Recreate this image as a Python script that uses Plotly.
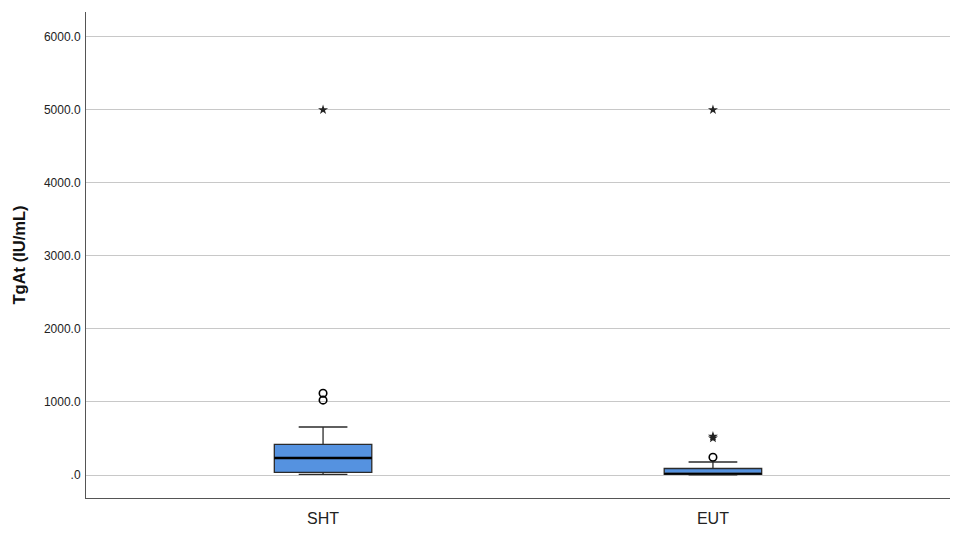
import plotly.graph_objects as go

groups = ["SHT", "EUT"]
q1 = [37, 10]
median = [233, 18]
q3 = [420, 89]
lower_whisker = [8, 2]
upper_whisker = [657, 178]
circle_outliers = [[1025, 1120], [242]]
star_outliers = [[5000], [505, 530, 5000]]

y_tickvals = [0, 1000, 2000, 3000, 4000, 5000, 6000]
y_ticktext = [".0", "1000.0", "2000.0", "3000.0", "4000.0", "5000.0", "6000.0"]

BOX_W = 0.25
fill = "#5592e0"

fig = go.Figure()
for i, g in enumerate(groups):
    fig.add_trace(go.Box(
        name=g, x0=i, q1=[q1[i]], median=[median[i]], q3=[q3[i]],
        lowerfence=[lower_whisker[i]], upperfence=[upper_whisker[i]],
        width=BOX_W, whiskerwidth=0.5,
        fillcolor=fill, line=dict(color="#2b2b2b", width=1.3),
        boxpoints=False, showlegend=False, hoverinfo="skip",
    ))
    fig.add_trace(go.Scatter(
        x=[i - BOX_W / 2, i + BOX_W / 2], y=[median[i], median[i]],
        mode="lines", line=dict(color="black", width=2.6 if i == 0 else 1.5),
        showlegend=False, hoverinfo="skip",
    ))
    fig.add_trace(go.Scatter(
        x=[i] * len(circle_outliers[i]), y=circle_outliers[i], mode="markers",
        marker=dict(symbol="circle-open", size=7.5, color="black", line=dict(width=1.6)),
        showlegend=False,
    ))
    fig.add_trace(go.Scatter(
        x=[i] * len(star_outliers[i]), y=star_outliers[i], mode="markers",
        marker=dict(symbol="star", size=7.5, color="#222222"),
        showlegend=False,
    ))

fig.update_layout(
    width=958, height=539,
    margin=dict(l=78, r=16, t=4, b=49),
    paper_bgcolor="white", plot_bgcolor="white",
    boxmode="overlay",
    font=dict(family="Liberation Sans, Arial, sans-serif", color="#222222"),
    xaxis=dict(
        range=[-0.608, 1.608], tickvals=[0, 1], ticktext=groups,
        showgrid=False, zeroline=False, showline=True, linecolor="#555555", linewidth=1,
        ticks="", tickfont=dict(size=16, color="#222222"), ticklabelstandoff=6,
    ),
    yaxis=dict(
        range=[-315, 6340], tickvals=y_tickvals, ticktext=y_ticktext,
        showgrid=True, gridcolor="#c8c8c8", gridwidth=1.2, zeroline=False,
        showline=True, linecolor="#555555", linewidth=1, ticks="",
        tickfont=dict(size=12, color="#222222"), ticklabelstandoff=2,
        title=dict(text="<b>TgAt (IU/mL)</b>", font=dict(size=16.5, color="#111111"), standoff=14),
    ),
)

fig.write_html("out.html")
